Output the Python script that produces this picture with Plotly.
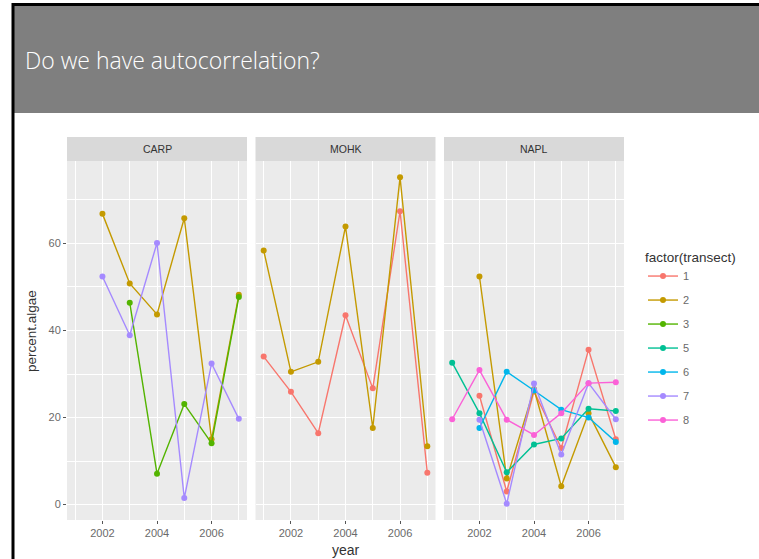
import plotly.graph_objects as go

# ---- data: percent algae cover by site, transect and year ----
years = [2001, 2002, 2003, 2004, 2005, 2006, 2007]
sites = ["CARP", "MOHK", "NAPL"]
transects = [1, 2, 3, 5, 6, 7, 8]

carp_t2 = [None, 66.8, 50.8, 43.7, 65.8, 15.0, 48.2]
carp_t3 = [None, None, 46.4, 7.1, 23.1, 14.1, 47.7]
carp_t7 = [None, 52.4, 38.9, 60.1, 1.5, 32.4, 19.7]

mohk_t1 = [34.0, 25.9, 16.4, 43.5, 26.7, 67.4, 7.3]
mohk_t2 = [58.4, 30.5, 32.8, 63.9, 17.6, 75.2, 13.4]

napl_t1 = [None, 25.0, 3.0, 26.0, 13.0, 35.6, 15.0]
napl_t2 = [None, 52.4, 6.0, 26.5, 4.2, 21.0, 8.6]
napl_t5 = [32.6, 21.0, 7.4, 13.8, 15.2, 22.0, 21.5]
napl_t6 = [None, 17.6, 30.5, 26.2, 21.8, 20.0, 14.4]
napl_t7 = [None, 19.5, 0.2, 27.8, 11.5, 27.9, 19.6]
napl_t8 = [19.6, 30.9, 19.5, 16.0, 21.0, 27.9, 28.1]

series = {
    "CARP": {2: carp_t2, 3: carp_t3, 7: carp_t7},
    "MOHK": {1: mohk_t1, 2: mohk_t2},
    "NAPL": {1: napl_t1, 2: napl_t2, 5: napl_t5, 6: napl_t6, 7: napl_t7, 8: napl_t8},
}

# ggplot2 default hue palette for 7 levels
palette = {1: "#F8766D", 2: "#C49A00", 3: "#53B400", 5: "#00C094",
           6: "#00B6EB", 7: "#A58AFF", 8: "#FB61D7"}

W, H = 759, 559
SANS = "Liberation Sans, Arial, sans-serif"


def px_x(p):
    return p / W


def px_y(p):
    return 1 - p / H


panel_x = [(67, 247), (255.5, 435.5), (444, 624)]
panel_top, panel_bottom = 161, 520
strip_top = 137

fig = go.Figure()

seen = set()
for i, site in enumerate(sites):
    ax = "" if i == 0 else str(i + 1)
    for t, vals in series[site].items():
        xs = [y for y, v in zip(years, vals) if v is not None]
        ys = [v for v in vals if v is not None]
        fig.add_trace(go.Scatter(
            x=xs, y=ys, mode="lines+markers",
            xaxis="x" + ax, yaxis="y" + ax,
            line=dict(color=palette[t], width=1.4),
            marker=dict(color=palette[t], size=6),
            name=str(t), legendgroup=str(t), legendrank=t,
            showlegend=t not in seen,
        ))
        seen.add(t)

tick_font = dict(family=SANS, size=11, color="#6A6A6A")
grid = dict(showgrid=True, gridcolor="white", gridwidth=1.1, zeroline=False,
            showline=False, ticklen=3, tickcolor="#555555",
            tickwidth=1, tickfont=tick_font)

layout = dict(
    width=W, height=H, autosize=False,
    margin=dict(l=0, r=0, t=0, b=0),
    paper_bgcolor="white", plot_bgcolor="#EBEBEB",
    showlegend=True,
    legend=dict(
        x=px_x(643), y=px_y(244), xanchor="left", yanchor="top",
        title=dict(text="factor(transect)", font=dict(family=SANS, size=13.5, color="#333333")),
        font=dict(family=SANS, size=11, color="#6A6A6A"),
        tracegroupgap=5, itemwidth=30, bgcolor="rgba(0,0,0,0)",
    ),
)

for i, (x0, x1) in enumerate(panel_x):
    ax = "" if i == 0 else str(i + 1)
    layout["xaxis" + ax] = dict(
        domain=[px_x(x0), px_x(x1)], range=[2000.7, 2007.3],
        tickvals=[2002, 2004, 2006], anchor="y" + ax, ticks="outside",
        minor=dict(tickvals=[2001, 2003, 2005, 2007], showgrid=True,
                   gridcolor="white", gridwidth=0.5, ticks=""),
        **grid,
    )
    layout["yaxis" + ax] = dict(
        domain=[px_y(panel_bottom), px_y(panel_top)], range=[-3.55, 78.95],
        tickvals=[0, 20, 40, 60], anchor="x" + ax,
        minor=dict(tickvals=[10, 30, 50, 70], showgrid=True,
                   gridcolor="white", gridwidth=0.5, ticks=""),
        showticklabels=(i == 0),
        ticks="outside" if i == 0 else "",
        **grid,
    )

shapes = []
annotations = []

# facet strips
for site, (x0, x1) in zip(sites, panel_x):
    shapes.append(dict(type="rect", xref="paper", yref="paper",
                       x0=px_x(x0), x1=px_x(x1), y0=px_y(panel_top), y1=px_y(strip_top),
                       fillcolor="#D9D9D9", line=dict(width=0), layer="below"))
    annotations.append(dict(text=site, xref="paper", yref="paper",
                            x=px_x((x0 + x1) / 2), y=px_y((panel_top + strip_top) / 2),
                            showarrow=False, xanchor="center", yanchor="middle",
                            font=dict(family=SANS, size=10.5, color="#333333")))

# axis titles
annotations.append(dict(text="year", xref="paper", yref="paper",
                        x=px_x(345.5), y=px_y(550), showarrow=False,
                        xanchor="center", yanchor="middle",
                        font=dict(family=SANS, size=14, color="#333333")))
annotations.append(dict(text="percent.algae", xref="paper", yref="paper",
                        x=px_x(31), y=px_y(331), showarrow=False, textangle=-90,
                        xanchor="center", yanchor="middle",
                        font=dict(family=SANS, size=13.5, color="#333333")))

# slide header bar and frame
shapes.append(dict(type="rect", xref="paper", yref="paper",
                   x0=px_x(13), x1=1, y0=px_y(113), y1=px_y(5),
                   fillcolor="#7F7F7F", line=dict(width=0), layer="above"))
shapes.append(dict(type="line", xref="paper", yref="paper",
                   x0=px_x(12), x1=1, y0=px_y(4.5), y1=px_y(4.5),
                   line=dict(color="black", width=3), layer="above"))
shapes.append(dict(type="line", xref="paper", yref="paper",
                   x0=px_x(13), x1=px_x(13), y0=0, y1=px_y(3),
                   line=dict(color="black", width=3), layer="above"))

annotations.append(dict(text="Do we have autocorrelation?", xref="paper", yref="paper",
                        x=px_x(23), y=px_y(60), showarrow=False,
                        xanchor="left", yanchor="middle",
                        font=dict(family="Open Sans, sans-serif", size=23, color="white", weight=300)))

layout["shapes"] = shapes
layout["annotations"] = annotations
fig.update_layout(**layout)

fig.write_html("out.html")
